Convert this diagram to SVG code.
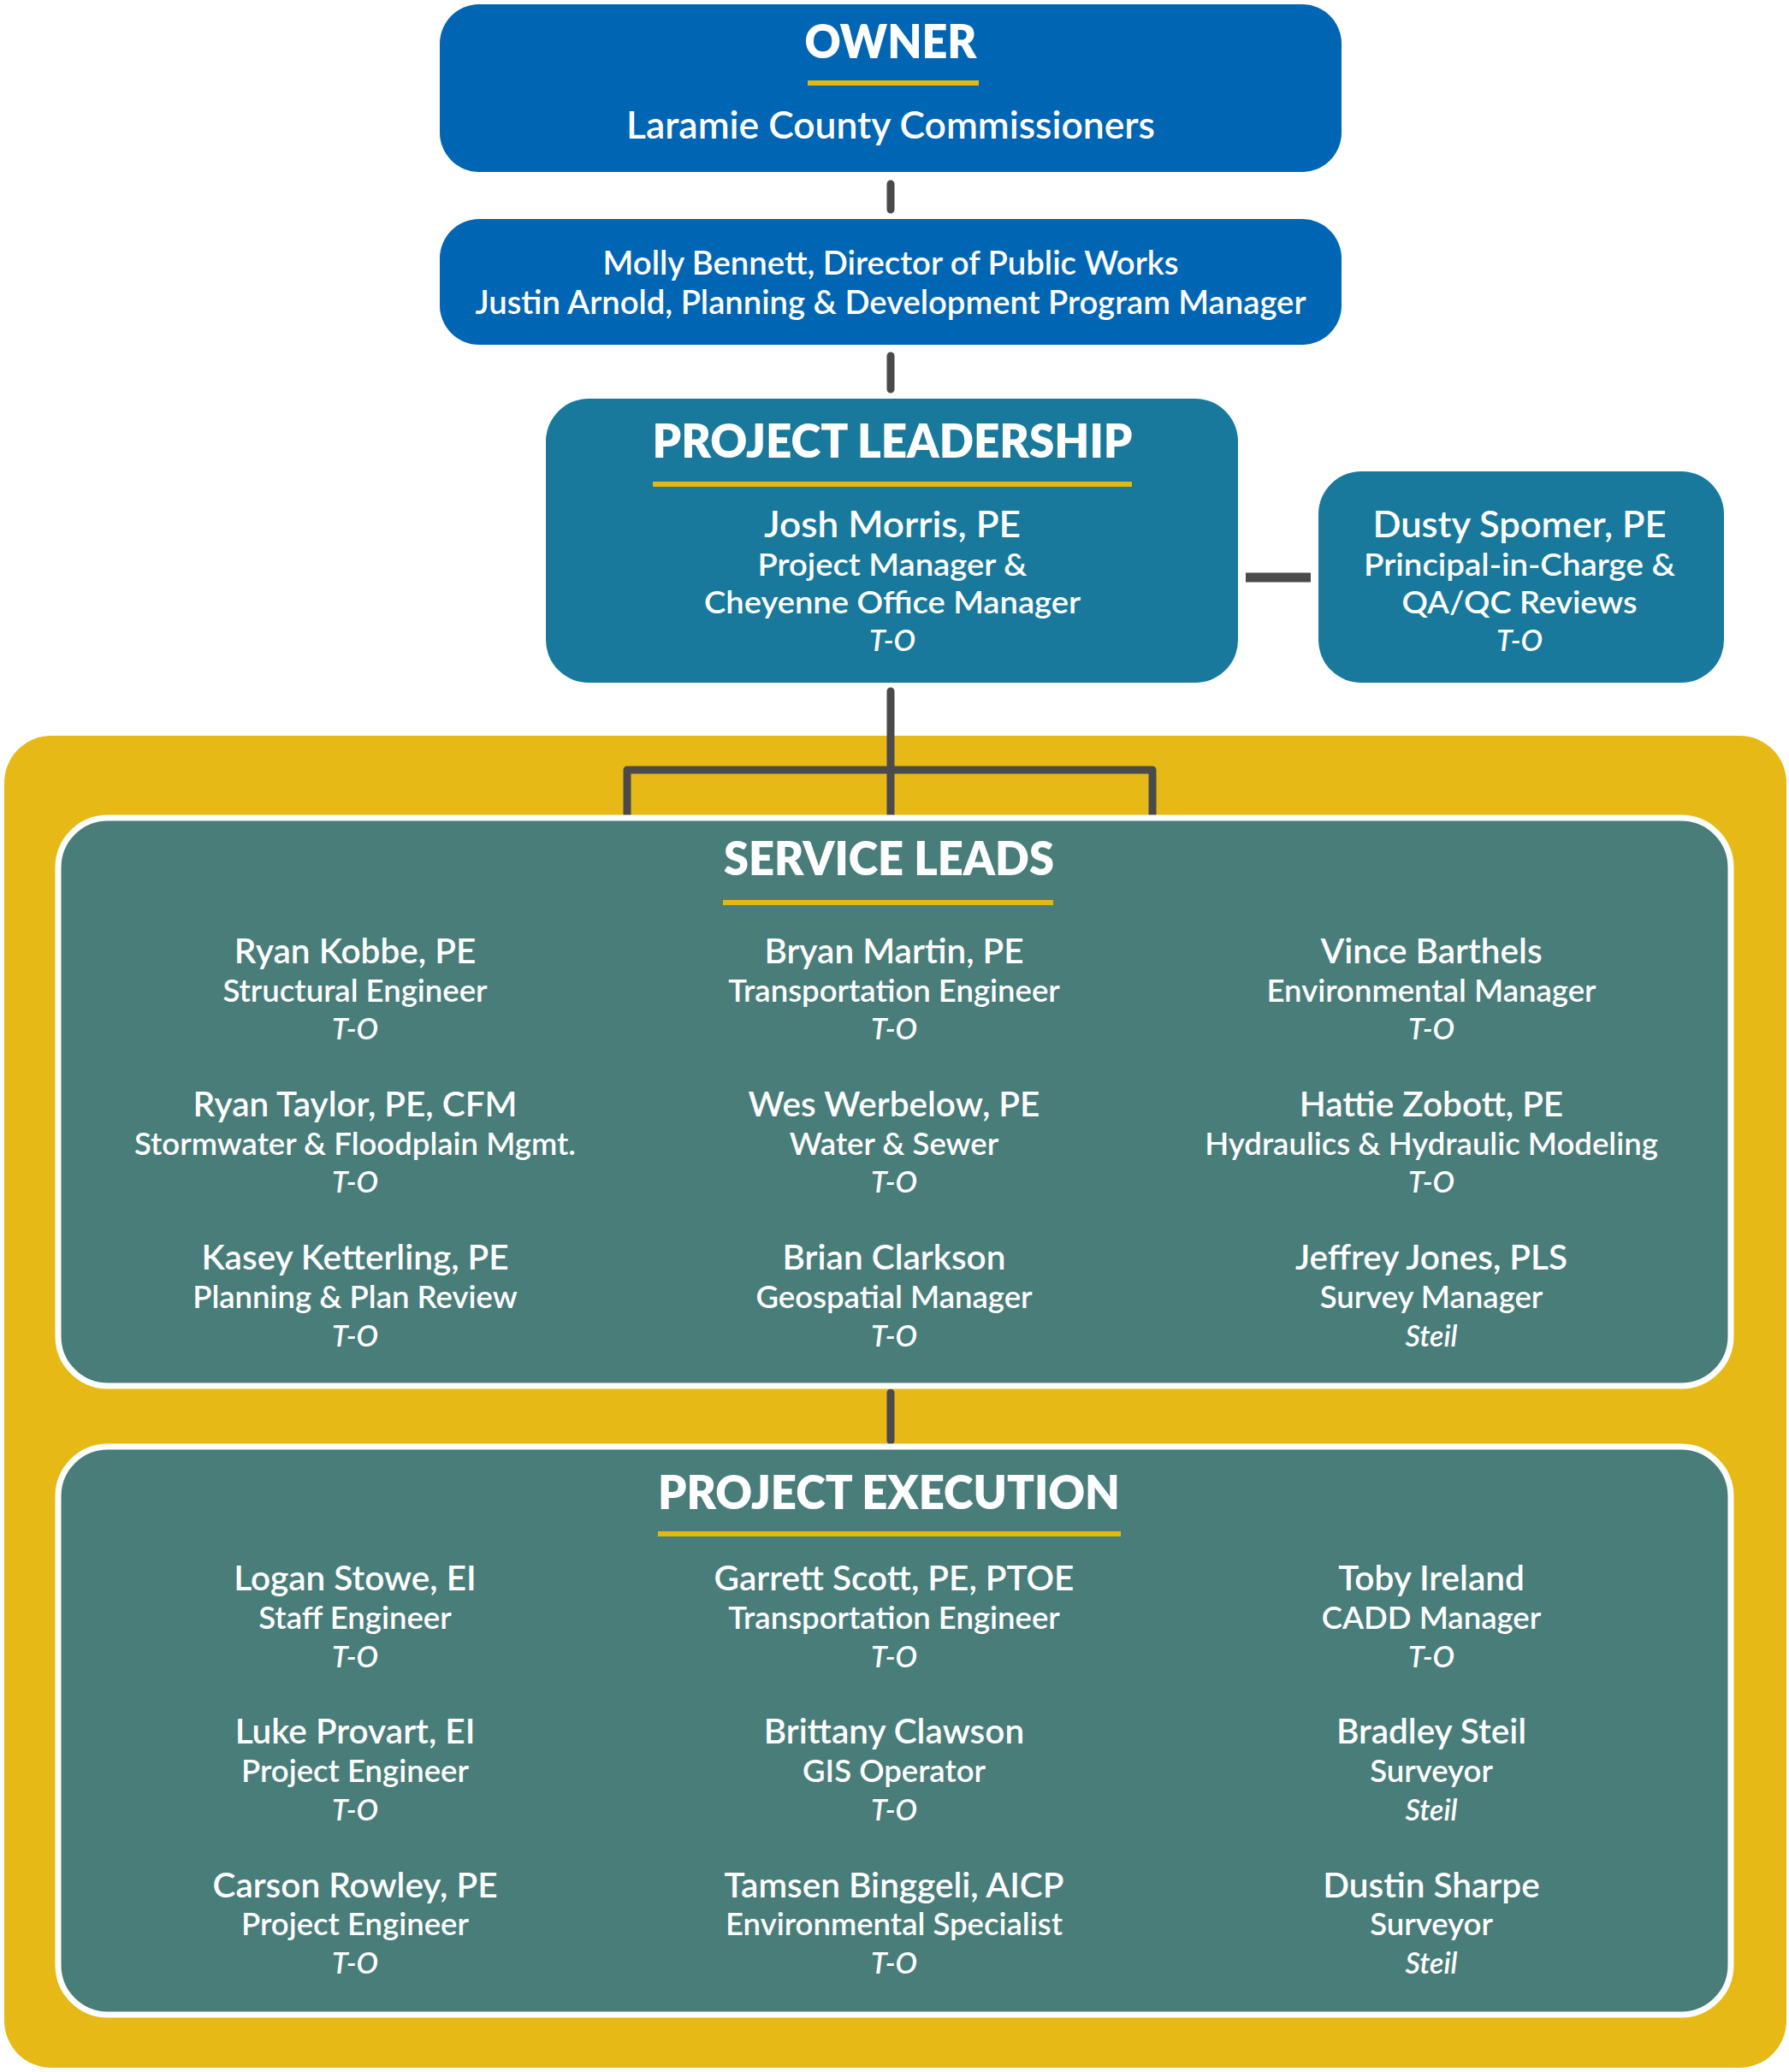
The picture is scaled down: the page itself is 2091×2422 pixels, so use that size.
<svg xmlns="http://www.w3.org/2000/svg" width="2091" height="2422" viewBox="0 0 2091 2422">
<style>
text{font-family:Lato,"Liberation Sans",sans-serif;fill:#fff;text-anchor:middle;font-weight:600}
.ttl{font-weight:800;font-size:54px}
.sub{font-size:45px}
.top{font-size:39px}
.nm{font-size:43px}
.g .nm{font-size:40.5px}
.rl{font-size:37px}
.g .rl{font-size:36.5px}
.tg{font-size:34px;font-style:italic}
.gold{fill:#e3b815}
.con{stroke:#4a4a4a;stroke-width:9;fill:none;stroke-linecap:round;stroke-linejoin:round}
</style>
<rect x="0" y="0" width="2091" height="2422" fill="#fff"/>
<g id="team-container"><rect x="5" y="860" width="2083" height="1557" rx="55" fill="#e6b916"/></g>
<g id="connectors">
<path class="con" d="M1041 215V245M1041 416V455M1041 808V953M733 953V900H1347V953" />
<path d="M1456 675H1532" stroke="#4a4a4a" stroke-width="11"/>
<path class="con" d="M1041 1628V1684"/>
</g>
<g id="owner">
<rect x="514" y="5" width="1054" height="196" rx="46" fill="#0066b3"/>
<text class="ttl" x="1041" y="68" textLength="201" lengthAdjust="spacingAndGlyphs">OWNER</text>
<rect class="gold" x="944" y="94" width="200" height="6"/>
<text class="sub" x="1041" y="162" textLength="618" lengthAdjust="spacingAndGlyphs">Laramie County Commissioners</text>
</g>
<g id="owner-staff">
<rect x="514" y="256" width="1054" height="147" rx="46" fill="#0066b3"/>
<text class="top" x="1041" y="321" textLength="673" lengthAdjust="spacingAndGlyphs">Molly Bennett, Director of Public Works</text>
<text class="top" x="1041" y="367" textLength="971" lengthAdjust="spacingAndGlyphs">Justin Arnold, Planning &amp; Development Program Manager</text>
</g>
<g id="project-leadership">
<rect x="638" y="466" width="809" height="332" rx="50" fill="#18799c"/>
<text class="ttl" x="1043" y="535" textLength="561" lengthAdjust="spacingAndGlyphs">PROJECT LEADERSHIP</text>
<rect class="gold" x="763" y="563" width="560" height="6"/>
<text class="nm" x="1043" y="628" textLength="300" lengthAdjust="spacingAndGlyphs">Josh Morris, PE</text>
<text class="rl" x="1043" y="673" textLength="315" lengthAdjust="spacingAndGlyphs">Project Manager &amp;</text>
<text class="rl" x="1043" y="717" textLength="440" lengthAdjust="spacingAndGlyphs">Cheyenne Office Manager</text>
<text class="tg" x="1043" y="761">T-O</text>
</g>
<g id="principal">
<rect x="1541" y="551" width="474" height="247" rx="50" fill="#18799c"/>
<text class="nm" x="1776" y="628" textLength="343" lengthAdjust="spacingAndGlyphs">Dusty Spomer, PE</text>
<text class="rl" x="1776" y="673" textLength="364" lengthAdjust="spacingAndGlyphs">Principal-in-Charge &amp;</text>
<text class="rl" x="1776" y="717" textLength="275" lengthAdjust="spacingAndGlyphs">QA/QC Reviews</text>
<text class="tg" x="1776" y="761">T-O</text>
</g>
<g id="service-leads" class="g">
<rect x="68" y="956" width="1955" height="664" rx="58" fill="#487d79" stroke="#fff" stroke-width="7"/>
<text class="ttl" x="1039" y="1023" textLength="386" lengthAdjust="spacingAndGlyphs">SERVICE LEADS</text>
<rect class="gold" x="845" y="1052" width="386" height="6"/>
<text class="nm" x="415" y="1126">Ryan Kobbe, PE</text>
<text class="rl" x="415" y="1171">Structural Engineer</text>
<text class="tg" x="415" y="1215">T-O</text>
<text class="nm" x="1045" y="1126">Bryan Martin, PE</text>
<text class="rl" x="1045" y="1171">Transportation Engineer</text>
<text class="tg" x="1045" y="1215">T-O</text>
<text class="nm" x="1673" y="1126">Vince Barthels</text>
<text class="rl" x="1673" y="1171">Environmental Manager</text>
<text class="tg" x="1673" y="1215">T-O</text>
<text class="nm" x="415" y="1305">Ryan Taylor, PE, CFM</text>
<text class="rl" x="415" y="1350">Stormwater &amp; Floodplain Mgmt.</text>
<text class="tg" x="415" y="1394">T-O</text>
<text class="nm" x="1045" y="1305">Wes Werbelow, PE</text>
<text class="rl" x="1045" y="1350">Water &amp; Sewer</text>
<text class="tg" x="1045" y="1394">T-O</text>
<text class="nm" x="1673" y="1305">Hattie Zobott, PE</text>
<text class="rl" x="1673" y="1350">Hydraulics &amp; Hydraulic Modeling</text>
<text class="tg" x="1673" y="1394">T-O</text>
<text class="nm" x="415" y="1484">Kasey Ketterling, PE</text>
<text class="rl" x="415" y="1529">Planning &amp; Plan Review</text>
<text class="tg" x="415" y="1574">T-O</text>
<text class="nm" x="1045" y="1484">Brian Clarkson</text>
<text class="rl" x="1045" y="1529">Geospatial Manager</text>
<text class="tg" x="1045" y="1574">T-O</text>
<text class="nm" x="1673" y="1484">Jeffrey Jones, PLS</text>
<text class="rl" x="1673" y="1529">Survey Manager</text>
<text class="tg" x="1673" y="1574">Steil</text>
</g>
<g id="project-execution" class="g">
<rect x="68" y="1691" width="1955" height="664" rx="58" fill="#487d79" stroke="#fff" stroke-width="7"/>
<text class="ttl" x="1039" y="1764" textLength="540" lengthAdjust="spacingAndGlyphs">PROJECT EXECUTION</text>
<rect class="gold" x="769" y="1790" width="541" height="6"/>
<text class="nm" x="415" y="1859">Logan Stowe, EI</text>
<text class="rl" x="415" y="1904">Staff Engineer</text>
<text class="tg" x="415" y="1949">T-O</text>
<text class="nm" x="1045" y="1859">Garrett Scott, PE, PTOE</text>
<text class="rl" x="1045" y="1904">Transportation Engineer</text>
<text class="tg" x="1045" y="1949">T-O</text>
<text class="nm" x="1673" y="1859">Toby Ireland</text>
<text class="rl" x="1673" y="1904">CADD Manager</text>
<text class="tg" x="1673" y="1949">T-O</text>
<text class="nm" x="415" y="2038">Luke Provart, EI</text>
<text class="rl" x="415" y="2083">Project Engineer</text>
<text class="tg" x="415" y="2128">T-O</text>
<text class="nm" x="1045" y="2038">Brittany Clawson</text>
<text class="rl" x="1045" y="2083">GIS Operator</text>
<text class="tg" x="1045" y="2128">T-O</text>
<text class="nm" x="1673" y="2038">Bradley Steil</text>
<text class="rl" x="1673" y="2083">Surveyor</text>
<text class="tg" x="1673" y="2128">Steil</text>
<text class="nm" x="415" y="2218">Carson Rowley, PE</text>
<text class="rl" x="415" y="2262">Project Engineer</text>
<text class="tg" x="415" y="2307">T-O</text>
<text class="nm" x="1045" y="2218">Tamsen Binggeli, AICP</text>
<text class="rl" x="1045" y="2262">Environmental Specialist</text>
<text class="tg" x="1045" y="2307">T-O</text>
<text class="nm" x="1673" y="2218">Dustin Sharpe</text>
<text class="rl" x="1673" y="2262">Surveyor</text>
<text class="tg" x="1673" y="2307">Steil</text>
</g>
</svg>
